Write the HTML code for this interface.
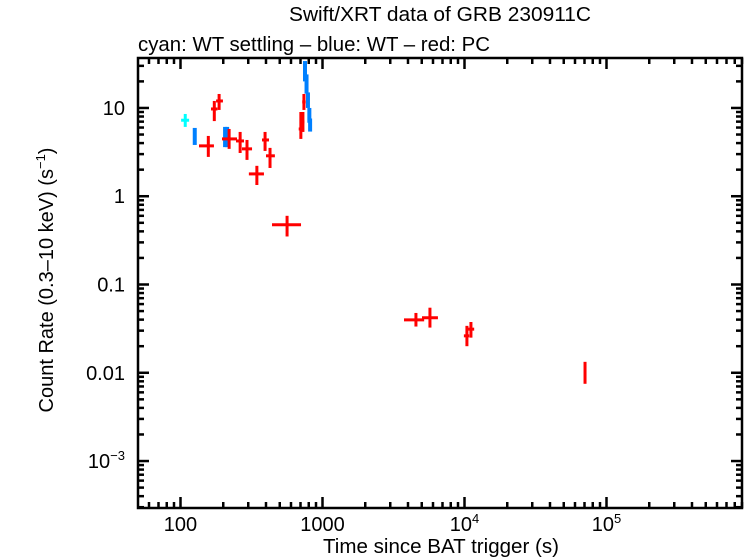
<!DOCTYPE html>
<html><head><meta charset="utf-8"><style>
html,body{margin:0;padding:0;background:#fff}
svg{display:block}
text{font-family:"Liberation Sans",sans-serif;fill:#000}
</style></head><body>
<svg id="chart" width="746" height="558" viewBox="0 0 746 558">
<text x="289" y="21" font-size="20" textLength="302" lengthAdjust="spacingAndGlyphs">Swift/XRT data of GRB 230911C</text>
<text x="138" y="51" font-size="20" textLength="352" lengthAdjust="spacingAndGlyphs">cyan: WT settling – blue: WT – red: PC</text>
<text x="323" y="553" font-size="20" textLength="236" lengthAdjust="spacingAndGlyphs">Time since BAT trigger (s)</text>
<text transform="translate(53,280) rotate(-90)" font-size="20" text-anchor="middle">Count Rate (0.3–10 keV) (s<tspan font-size="13" dy="-8">−1</tspan><tspan dy="8">)</tspan></text>
<g id="axes"></g>
<g id="marks"></g>
<rect x="138" y="58" width="604" height="450" fill="none" stroke="#000" stroke-width="2.5"/>
</svg>
<script>
// cyan WT settling
const cyanT=[108], cyanTlo=[101], cyanThi=[115], cyanR=[7.26], cyanRlo=[6.1], cyanRhi=[8.55];
// blue WT
const blueT=[126,206,213,753,772,790,808,818];
const blueTlo=[123,202,209,748,766,784,802,812];
const blueThi=[129,210,217,758,778,796,814,824];
const blueR=[4.82,4.7,4.7,26.9,18.7,12.3,8.33,6.4];
const blueRlo=[3.81,3.6,3.6,20,14.5,10.0,6.8,5.4];
const blueRhi=[5.94,6.1,6.1,34,24,15,10,7.6];
// red PC
const redT=[157,173,187,220,263,294,345,394,427,563,704,728,740,4550,5710,10400,11100,70600];
const redTlo=[135,164,178,196,246,271,303,375,400,441,680,712,720,3750,5020,9900,10600,69500];
const redThi=[172,182,199,250,280,319,387,420,462,706,742,745,761,5200,6500,10800,11700,71700];
const redR=[3.72,9.74,12.0,4.46,4.23,3.44,1.79,4.34,2.87,0.475,5.78,6.95,11.7,0.0397,0.042,0.0262,0.0312,0.0100];
const redRlo=[2.79,7.1,9.5,3.44,3.09,2.58,1.34,3.26,2.09,0.35,4.46,5.35,9.5,0.0334,0.0325,0.020,0.025,0.0075];
const redRhi=[4.82,12.0,14.4,5.78,5.35,4.34,2.21,5.35,3.53,0.60,9.0,9.0,14.4,0.0476,0.0546,0.034,0.0376,0.0133];
const xTickVals=[100,1000,10000,100000];
const xTickLabels=["100","1000","10|4","10|5"];
const yTickVals=[10,1,0.1,0.01,0.001];
const yTickLabels=["10","1","0.1","0.01","10|−3"];

const L=138,R=742,T=58,B=508;
const X0=Math.log10(50.2),X1=Math.log10(9.0e5);
const Y0=Math.log10(10**-3.532),Y1=Math.log10(10**1.566);
function xs(v){return L+(Math.log10(v)-X0)/(X1-X0)*(R-L);}
function ys(v){return B-(Math.log10(v)-Y0)/(Y1-Y0)*(B-T);}
const NS="http://www.w3.org/2000/svg";
function mk(tag,attrs,parent){const e=document.createElementNS(NS,tag);for(const k in attrs)e.setAttribute(k,attrs[k]);parent.appendChild(e);return e;}
const ax=document.getElementById('axes'), mg=document.getElementById('marks');
function ln(x1,y1,x2,y2,p,w,c){return mk('line',{x1:x1,y1:y1,x2:x2,y2:y2,stroke:c||'#000','stroke-width':w||2.5},p);}
function label(x,y,s,anchor){
  const t=mk('text',{x:x,y:y,'font-size':20,'text-anchor':anchor},ax);
  const parts=s.split('|');
  t.textContent=parts[0];
  if(parts[1]){const sp=mk('tspan',{'font-size':13,dy:-8},t);sp.textContent=parts[1];}
  return t;
}
// x ticks
for(let d=1;d<=6;d++){for(let m=1;m<10;m++){const v=m*10**d;if(v<50.2||v>9e5)continue;const x=xs(v);const len=m===1?11:6;
  const a=ln(x,B,x,B-len,ax);
  const b=ln(x,T,x,T+len,ax);}}
xTickVals.forEach((v,i)=>{const t=label(xs(v),531,xTickLabels[i],'middle');
  
  });
// y ticks
for(let d=-4;d<=1;d++){for(let m=1;m<10;m++){const v=m*10**d;const y=ys(v);if(y<T||y>B)continue;const len=m===1?11:6;
  const a=ln(L,y,L+len,y,ax);
  const b=ln(R,y,R-len,y,ax);}}
yTickVals.forEach((v,i)=>{const t=label(125,ys(v)+7,yTickLabels[i],'end');
  
  });
function series(T_,Tl,Th,Rv,Rl,Rh,color,name,w){
  for(let i=0;i<T_.length;i++){
    const g=mk('g',{},mg);
    
    
    ln(xs(Tl[i]),ys(Rv[i]),xs(Th[i]),ys(Rv[i]),g,3,color);
    ln(xs(T_[i]),ys(Rl[i]),xs(T_[i]),ys(Rh[i]),g,w,color);
  }
}
series(cyanT,cyanTlo,cyanThi,cyanR,cyanRlo,cyanRhi,'#00ffff','wt-settling-point',3);
series(blueT,blueTlo,blueThi,blueR,blueRlo,blueRhi,'#0080ff','wt-point',4);
series(redT,redTlo,redThi,redR,redRlo,redRhi,'#ff0000','pc-point',3);
</script>
</body></html>
